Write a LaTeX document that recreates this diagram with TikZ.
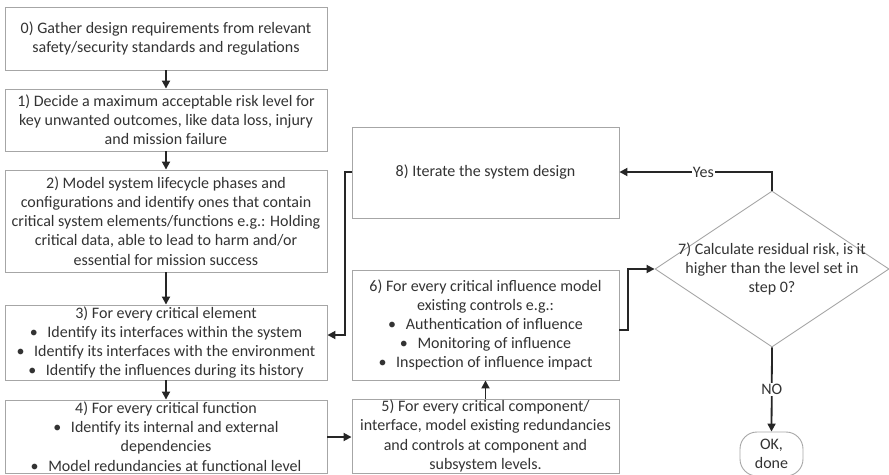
\documentclass[tikz,border=0pt]{standalone}
\usepackage{fontspec}
\setmainfont{Carlito}
\usetikzlibrary{shapes.geometric,arrows.meta}
\definecolor{boxgray}{HTML}{A6A6A6}
\definecolor{textgray}{HTML}{333333}
\newcommand{\bul}{\textbullet\hspace{0.6em}}
\begin{document}
\begin{tikzpicture}[x=1pt,y=-1pt,
  box/.style={draw=boxgray, line width=0.9pt, fill=white, align=center, inner sep=1pt,
    font=\fontsize{16}{19.2}\selectfont, text=textgray},
  flow/.style={line width=1.8pt, draw=black!85, -{Triangle[length=8pt,width=8pt]}},
  lbl/.style={fill=white, inner sep=1pt, text=textgray, font=\fontsize{16}{18}\selectfont},
]
\useasboundingbox (0,0) rectangle (889,474);

% left column
\node[box, minimum width=322pt, minimum height=63pt] (b0) at (166,38.5)
  {0) Gather design requirements from relevant\\safety/security standards and regulations};
\node[box, minimum width=322pt, minimum height=62pt] (b1) at (166,120)
  {1) Decide a maximum acceptable risk level for\\key unwanted outcomes, like data loss, injury\\and mission failure};
\node[box, minimum width=322pt, minimum height=102pt] (b2) at (166,221)
  {2) Model system lifecycle phases and\\configurations and identify ones that contain\\critical system elements/functions e.g.: Holding\\critical data, able to lead to harm and/or\\essential for mission success};
\node[box, minimum width=322pt, minimum height=75pt] (b3) at (166,342.5)
  {3) For every critical element\\\bul Identify its interfaces within the system\\\bul Identify its interfaces with the environment\\\bul Identify the influences during its history};
\node[box, minimum width=322pt, minimum height=73pt] (b4) at (166,436.5)
  {4) For every critical function\\\bul Identify its internal and external\\dependencies\\\bul Model redundancies at functional level};

% middle column
\node[box, minimum width=267pt, minimum height=91pt] (b8) at (485.5,172.5)
  {8) Iterate the system design};
\node[box, minimum width=267pt, minimum height=110pt] (b6) at (485.5,325)
  {6) For every critical influence model\\existing controls e.g.:\\\bul Authentication of influence\\\bul Monitoring of influence\\\bul Inspection of influence impact};
\node[box, minimum width=267pt, minimum height=74pt] (b5) at (485.5,436)
  {5) For every critical component/\\interface, model existing redundancies\\and controls at component and\\subsystem levels.};

% decision and end
\node[draw=boxgray, line width=0.9pt, diamond, minimum width=234pt, minimum height=156pt, inner sep=0pt] (d7) at (772,269) {};
\node[align=center, text=textgray, font=\fontsize{16}{19.2}\selectfont] (d7t) at (772,269)
  {7) Calculate residual risk, is it\\higher than the level set in\\step 0?};
\node[draw=boxgray, line width=0.9pt, rounded corners=17pt, minimum width=63pt, minimum height=44pt,
  align=center, text=textgray, font=\fontsize{16}{18.5}\selectfont, inner sep=0pt] (ok) at (771.5,454)
  {OK,\\done};

% connectors
\draw[flow] (b0) -- (b1);
\draw[flow] (b1) -- (b2);
\draw[flow] (b2) -- (b3);
\draw[flow] (b3) -- (b4);
\draw[flow] (b4.east |- 0,437) -- (b5.west |- 0,437);
\draw[flow] (b5) -- (b6);
\coordinate (j6) at (628,330);
\draw[flow] (b6.east |- j6) -- (j6) |- (d7.west);
\coordinate (jy) at (772,172);
\draw[flow] (d7.north) -- (jy) -- node[lbl, pos=0.45] {Yes} (b8.east |- jy);
\coordinate (j8) at (345,172);
\draw[flow] (b8.west |- j8) -- (j8) |- (b3.east |- 0,335);
\draw[flow] (d7.south) -- node[lbl, pos=0.5] {NO} (ok.north);
\end{tikzpicture}
\end{document}
